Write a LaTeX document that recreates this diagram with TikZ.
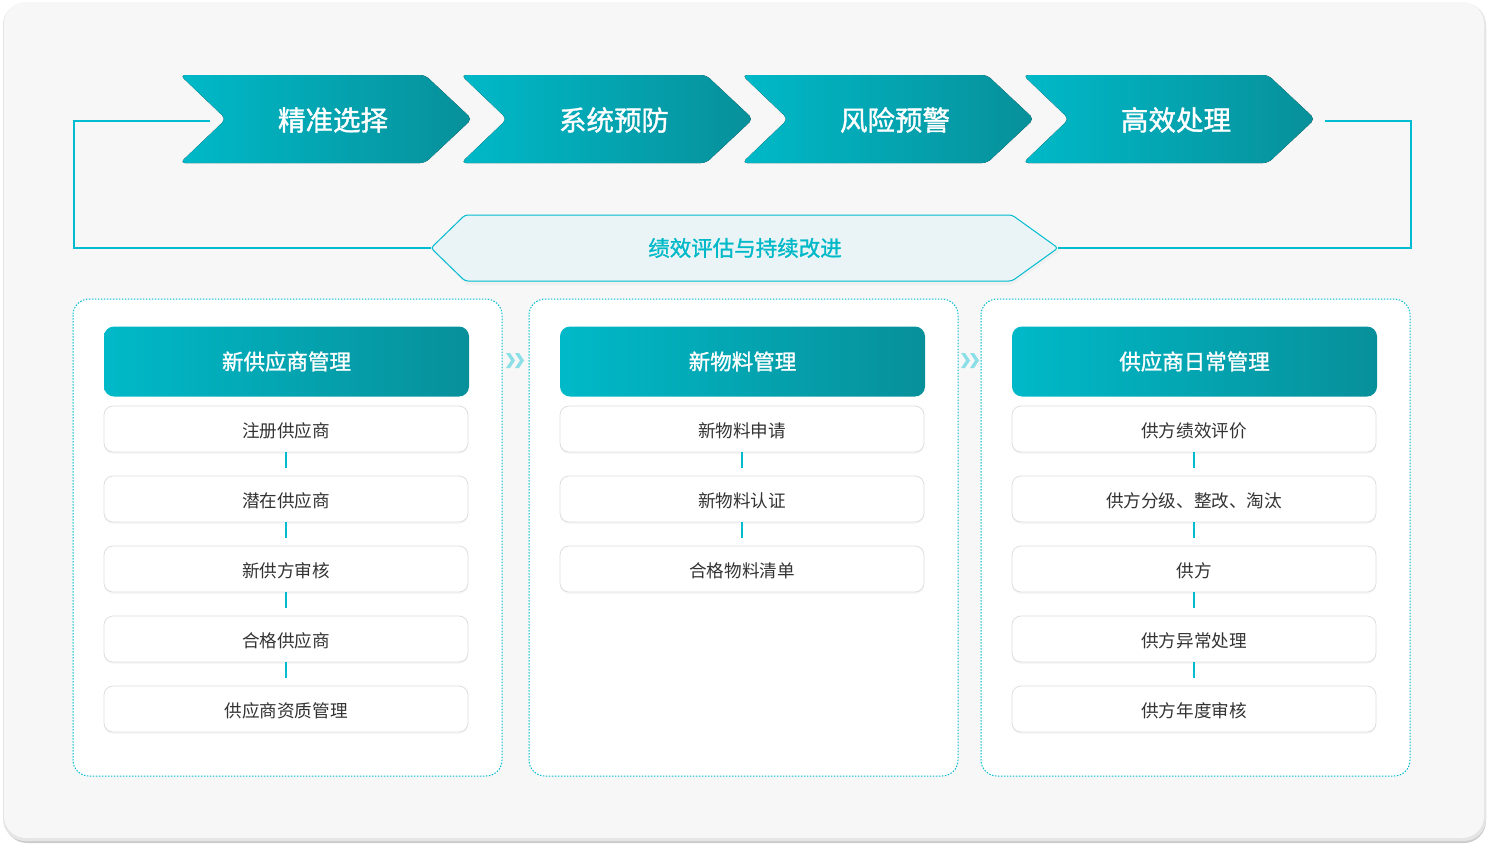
\documentclass[tikz,border=0pt]{standalone}
\usepackage{fontspec}
\setmainfont{Noto Sans CJK SC}
\newfontfamily\medfont[FakeBold=1.2]{Noto Sans CJK SC}
\usetikzlibrary{shadows,calc}
\definecolor{cyL}{HTML}{00B9C8}
\definecolor{cyD}{HTML}{07909A}
\definecolor{cyLine}{HTML}{00BCD0}
\definecolor{hexfill}{HTML}{EAF4F6}
\definecolor{panelbg}{HTML}{F7F7F7}
\definecolor{txt}{HTML}{333333}
\tikzset{
  grad/.style={left color=cyL, right color=cyD},
  chevtext/.style={text=white, font=\medfont\fontsize{27.5}{32}\selectfont},
  panelbox/.style={fill=white, draw=cyLine, line width=1pt, dash pattern=on 1.5pt off 1.5pt, rounded corners=16pt},
  headbox/.style={grad, rounded corners=10pt, minimum width=365pt, minimum height=70pt, text=white, font=\medfont\fontsize{21.5}{26}\selectfont, inner sep=0pt},
  itembox/.style={fill=white, draw=black!13, line width=0.8pt, rounded corners=9pt, minimum width=364pt, minimum height=46pt, text=txt, font=\fontsize{17.6}{21}\selectfont, inner sep=0pt, text height=17.5pt, text depth=0pt, drop shadow={opacity=0.06, shadow xshift=0pt, shadow yshift=-2pt}},
  link/.style={draw=cyLine, line width=2pt},
  loop/.style={draw=cyLine, line width=2pt},
  mini/.style={fill=cyL!45}
}
\begin{document}
\begin{tikzpicture}[x=1pt,y=-1pt]
\useasboundingbox (0,0) rectangle (1488,846);
\fill[white] (0,0) rectangle (1488,846);
% outer panel with shadow
\fill[black!20, rounded corners=22pt] (5,6) rectangle (1486,843);
\fill[black!10, rounded corners=22pt] (3,3) rectangle (1486,841);
\fill[panelbg, rounded corners=22pt] (4,2) rectangle (1484,838);

% loop lines
\coordinate (ls) at (210,121);
\coordinate (rs) at (1325,121);
\coordinate (hl) at (431,248);
\coordinate (hr) at (1058,248);
\draw[loop] (ls) -- (74,121) -- (74,248) -- (hl);
\draw[loop] (rs) -- (1411,121) -- (1411,248) -- (hr);

% chevrons
\foreach \x/\t/\n in {180/精准选择/c1, 461/系统预防/c2, 742/风险预警/c3, 1023/高效处理/c4}{
  \fill[grad, rounded corners=5pt] (\x,75) -- (\x+245,75) -- (\x+292,119) -- (\x+245,163) -- (\x,163) -- (\x+46,119) -- cycle;
  \node[chevtext] (\n) at (\x+153,120) {\t};
}

% hexagon
\fill[black!6] (433,251) -- (467,218) -- (1012,218) -- (1060,251) -- (1012,285) -- (467,285) -- cycle;
\filldraw[fill=hexfill, draw=cyLine, line width=1pt, rounded corners=3pt] (hl) -- (465,215) -- (1012,215) -- (hr) -- (1012,281) -- (465,281) -- cycle;
\node[text=cyL, font=\medfont\fontsize{21.5}{26}\selectfont] (h) at (745,248) {绩效评估与持续改进};

% panels
\draw[panelbox] (73,299) rectangle (502,776);
\draw[panelbox] (529,299) rectangle (958,776);
\draw[panelbox] (981,299) rectangle (1410,776);

% mini double chevrons
\foreach \x in {506,515,961,970}{
  \fill[mini] (\x,353) -- (\x+4,353) -- (\x+9,360.5) -- (\x+4,368) -- (\x,368) -- (\x+5,360.5) -- cycle;
}

% column 1
\node[headbox] (a0) at (286.5,361.5) {新供应商管理};
\node[itembox] (a1) at (286,429) {注册供应商};
\node[itembox] (a2) at (286,499) {潜在供应商};
\node[itembox] (a3) at (286,569) {新供方审核};
\node[itembox] (a4) at (286,639) {合格供应商};
\node[itembox] (a5) at (286,709) {供应商资质管理};
\foreach \i/\j in {a1/a2,a2/a3,a3/a4,a4/a5}{
  \draw[link] (\i.south) -- ($(\i.south)!0.67!(\j.north)$);
}

% column 2
\node[headbox] (b0) at (742.5,361.5) {新物料管理};
\node[itembox] (b1) at (742,429) {新物料申请};
\node[itembox] (b2) at (742,499) {新物料认证};
\node[itembox] (b3) at (742,569) {合格物料清单};
\foreach \i/\j in {b1/b2,b2/b3}{
  \draw[link] (\i.south) -- ($(\i.south)!0.67!(\j.north)$);
}

% column 3
\node[headbox] (d0) at (1194.5,361.5) {供应商日常管理};
\node[itembox] (d1) at (1194,429) {供方绩效评价};
\node[itembox] (d2) at (1194,499) {供方分级、整改、淘汰};
\node[itembox] (d3) at (1194,569) {供方};
\node[itembox] (d4) at (1194,639) {供方异常处理};
\node[itembox] (d5) at (1194,709) {供方年度审核};
\foreach \i/\j in {d1/d2,d2/d3,d3/d4,d4/d5}{
  \draw[link] (\i.south) -- ($(\i.south)!0.67!(\j.north)$);
}
\end{tikzpicture}
\end{document}
